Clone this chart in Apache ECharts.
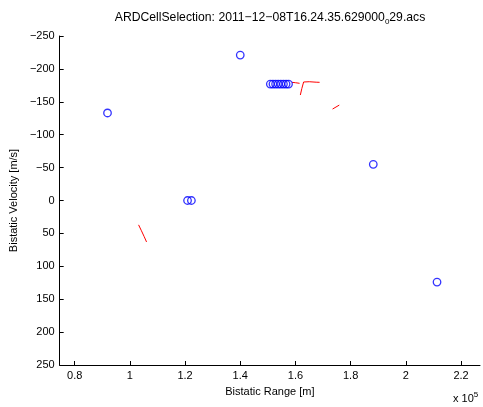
<!DOCTYPE html>
<html>
<head>
<meta charset="utf-8">
<script src="https://cdn.jsdelivr.net/npm/echarts@6/dist/echarts.min.js"></script>
<style>html,body{margin:0;padding:0;background:#fff;}#c{width:483px;height:407px;}</style>
</head>
<body>
<div id="c"></div>
<script>
// Blue circle detections: [bistatic range (m), bistatic velocity (m/s)]
const circleX = [91900, 140000, 150900, 151850, 152800, 153750, 154700, 155650, 156600, 157500, 120900, 122300, 188200, 211300];
const circleY = [-133, -221, -177, -177, -177, -177, -177, -177, -177, -177, 0, 0, -55, 124];

// Red track segments
const trackA_X = [103160, 104200, 105200, 106050];
const trackA_Y = [37, 46, 55, 63];
const trackB_X = [158760, 160000, 161500];
const trackB_Y = [-179.6, -179.0, -178.1];
const trackC_X = [161770, 162300, 162960, 165000, 167500, 168750];
const trackC_Y = [-160.3, -170, -180.1, -180.5, -179.8, -179.6];
const trackD_X = [173450, 175880];
const trackD_Y = [-139, -145];

const xTicks = [80000, 100000, 120000, 140000, 160000, 180000, 200000, 220000];
const yTicks = [-250, -200, -150, -100, -50, 0, 50, 100, 150, 200, 250];

const zip = (a, b) => a.map((v, i) => [v, b[i]]);
const FONT = 'Liberation Sans';

const chart = echarts.init(document.getElementById('c'), null, {renderer: 'canvas'});
const lineSeries = (xs, ys) => ({
  type: 'line', data: zip(xs, ys), showSymbol: false, symbol: 'none',
  lineStyle: {color: '#ff0000', width: 1}, animation: false, z: 2
});
chart.setOption({
  animation: false,
  backgroundColor: '#ffffff',
  textStyle: {fontFamily: FONT},
  title: {
    text: '{a|ARDCellSelection: 2011\u221212\u221208T16.24.35.629000}{s|0}{a|29.acs}',
    left: 265, top: 4, textAlign: 'center',
    textStyle: {fontWeight: 'normal', rich: {
      a: {fontFamily: FONT, fontSize: 12.2, fontWeight: 'normal', color: '#000'},
      s: {fontFamily: FONT, fontSize: 8, fontWeight: 'normal', color: '#000', verticalAlign: 'top', padding: [9, 0, 0, 0]}
    }}
  },
  grid: {left: 59, right: 3, top: 36, bottom: 42, containLabel: false},
  xAxis: {
    type: 'value', min: 74570, max: 226870,
    name: 'Bistatic Range [m]', nameLocation: 'middle', nameGap: 21,
    nameTextStyle: {fontFamily: FONT, fontSize: 11, color: '#000'},
    axisLine: {show: true, onZero: false, lineStyle: {color: '#000', width: 1}},
    axisTick: {show: true, inside: true, length: 4, customValues: xTicks, lineStyle: {color: '#000'}},
    axisLabel: {customValues: xTicks, margin: 5, fontFamily: FONT, fontSize: 11, color: '#000',
      formatter: v => String(Math.round(v / 1e4) / 10)},
    splitLine: {show: false}
  },
  yAxis: {
    type: 'value', inverse: true, min: -250, max: 250, interval: 50,
    name: 'Bistatic Velocity [m/s]', nameLocation: 'middle', nameGap: 31,
    nameTextStyle: {fontFamily: FONT, fontSize: 11, color: '#000'},
    axisLine: {show: true, onZero: false, lineStyle: {color: '#000', width: 1}},
    axisTick: {show: true, inside: true, length: 4, lineStyle: {color: '#000'}},
    axisLabel: {margin: 5, fontFamily: FONT, fontSize: 11, color: '#000',
      formatter: v => (v < 0 ? '\u2212' + Math.abs(v) : String(v))},
    splitLine: {show: false}
  },
  graphic: [{
    type: 'text', left: 453, top: 391,
    style: {
      text: '{a|x 10}{s|5}',
      rich: {
        a: {fontFamily: FONT, fontSize: 11, fill: '#000'},
        s: {fontFamily: FONT, fontSize: 8, fill: '#000', verticalAlign: 'bottom', padding: [0, 0, 8, 0]}
      }
    }
  }],
  series: [
    lineSeries(trackA_X, trackA_Y),
    lineSeries(trackB_X, trackB_Y),
    lineSeries(trackC_X, trackC_Y),
    lineSeries(trackD_X, trackD_Y),
    {
      type: 'scatter', data: zip(circleX, circleY), symbol: 'circle', symbolSize: 7.5,
      itemStyle: {color: 'rgba(0,0,0,0)', borderColor: '#0000ff', borderWidth: 1.3}, z: 3
    }
  ]
});
</script>
</body>
</html>
